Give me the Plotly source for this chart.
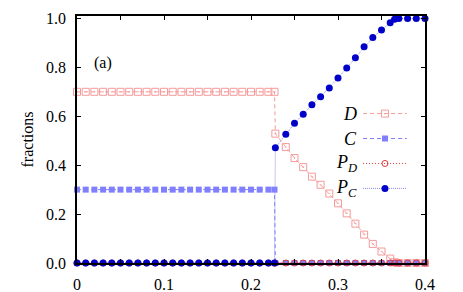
import plotly.graph_objects as go

# ---- data ----
x = [0.00, 0.01, 0.02, 0.03, 0.04, 0.05, 0.06, 0.07, 0.08, 0.09, 0.10,
     0.11, 0.12, 0.13, 0.14, 0.15, 0.16, 0.17, 0.18, 0.19, 0.20, 0.21, 0.22,
     0.227, 0.228,
     0.24, 0.25, 0.26, 0.27, 0.28, 0.29, 0.30, 0.31, 0.32, 0.33, 0.34, 0.35, 0.36,
     0.365, 0.37, 0.38, 0.39, 0.40]

D = [0.70, 0.70, 0.70, 0.70, 0.70, 0.70, 0.70, 0.70, 0.70, 0.70, 0.70,
     0.70, 0.70, 0.70, 0.70, 0.70, 0.70, 0.70, 0.70, 0.70, 0.70, 0.70, 0.70,
     0.70, 0.529,
     0.474, 0.429, 0.392, 0.353, 0.320, 0.284, 0.244, 0.203, 0.161, 0.116, 0.078, 0.047, 0.018,
     0.003, 0.0, 0.0, 0.0, 0.0]

C = [0.30, 0.30, 0.30, 0.30, 0.30, 0.30, 0.30, 0.30, 0.30, 0.30, 0.30,
     0.30, 0.30, 0.30, 0.30, 0.30, 0.30, 0.30, 0.30, 0.30, 0.30, 0.30, 0.30,
     0.30, 0.0,
     0.0, 0.0, 0.0, 0.0, 0.0, 0.0, 0.0, 0.0, 0.0, 0.0, 0.0, 0.0, 0.0,
     0.0, 0.0, 0.0, 0.0, 0.0]

PD = [0.0, 0.0, 0.0, 0.0, 0.0, 0.0, 0.0, 0.0, 0.0, 0.0, 0.0,
      0.0, 0.0, 0.0, 0.0, 0.0, 0.0, 0.0, 0.0, 0.0, 0.0, 0.0, 0.0,
      0.0, 0.0,
      0.0, 0.0, 0.0, 0.0, 0.0, 0.0, 0.0, 0.0, 0.0, 0.0, 0.0, 0.0, 0.0,
      0.0, 0.0, 0.0, 0.0, 0.0]

PC = [0.0, 0.0, 0.0, 0.0, 0.0, 0.0, 0.0, 0.0, 0.0, 0.0, 0.0,
      0.0, 0.0, 0.0, 0.0, 0.0, 0.0, 0.0, 0.0, 0.0, 0.0, 0.0, 0.0,
      0.0, 0.471,
      0.526, 0.571, 0.608, 0.647, 0.680, 0.716, 0.756, 0.797, 0.839, 0.884, 0.922, 0.953, 0.982,
      0.997, 1.0, 1.0, 1.0, 1.0]

x_tickvals = [0.0, 0.1, 0.2, 0.3, 0.4]
x_ticktext = ["0", "0.1", "0.2", "0.3", "0.4"]
y_tickvals = [0.0, 0.2, 0.4, 0.6, 0.8, 1.0]
y_ticktext = ["0.0", "0.2", "0.4", "0.6", "0.8", "1.0"]

series_names = ["<i>D</i>", "<i>C</i>", "<i>P</i><sub><i>D</i></sub>", "<i>P</i><sub><i>C</i></sub>"]

# ---- styles ----
D_COL = "#f59a9a"
C_COL = "#8080ff"
PD_COL = "#e03838"
PC_LINE = "#8a8af0"
PC_MARK = "#0000c8"
FONT = "Liberation Serif, Times New Roman, serif"

styles = [
    dict(line=dict(color=D_COL, width=1, dash="4px,3px"),
         marker=dict(symbol="square-open-dot", size=7, color=D_COL, line=dict(width=1, color=D_COL))),
    dict(line=dict(color=C_COL, width=1, dash="4px,3px"),
         marker=dict(symbol="square", size=6, color=C_COL, line=dict(width=0))),
    dict(line=dict(color=PD_COL, width=1, dash="1px,2px"),
         marker=dict(symbol="circle-open", size=6, color=PD_COL, line=dict(width=1, color=PD_COL))),
    dict(line=dict(color=PC_LINE, width=1, dash="1px,1px"),
         marker=dict(symbol="circle", size=7, color=PC_MARK, line=dict(width=0))),
]

fig = go.Figure()
for ys, st in zip([D, C, PD, PC], styles):
    fig.add_trace(go.Scatter(x=x, y=ys, mode="lines+markers", line=st["line"],
                             marker=st["marker"], showlegend=False, cliponaxis=False))

# ---- custom key (sample on hidden overlay axes, labels as annotations) ----
key_rows = [0.605, 0.504, 0.403, 0.302]
for row, st, name in zip(key_rows, styles, series_names):
    fig.add_trace(go.Scatter(x=[0.822, 0.885, 0.948], y=[row, row, row], mode="lines",
                             line=st["line"], xaxis="x2", yaxis="y2", showlegend=False))
    fig.add_trace(go.Scatter(x=[0.885], y=[row], mode="markers", marker=st["marker"],
                             xaxis="x2", yaxis="y2", showlegend=False))
    fig.add_annotation(x=0.81, y=row, xref="x2", yref="y2", text=name, showarrow=False,
                       xanchor="right", yanchor="middle",
                       font=dict(family=FONT, size=18, color="black"))

fig.add_annotation(x=0.075, y=0.81, xref="paper", yref="paper", text="(a)", showarrow=False,
                   xanchor="center", yanchor="middle",
                   font=dict(family=FONT, size=16, color="black"))

axis_common = dict(showline=True, linecolor="black", linewidth=1.5, mirror="allticks",
                   ticks="inside", ticklen=4, tickwidth=1, tickcolor="black",
                   showgrid=False, zeroline=False, automargin=False,
                   tickfont=dict(family=FONT, size=16, color="black"))

# the page body adds an 8px offset, so the figure is 8px smaller and margins compensate
fig.update_layout(
    width=455, height=284,
    margin=dict(l=69, r=38, t=8, b=29, autoexpand=False),
    paper_bgcolor="white", plot_bgcolor="white",
    xaxis=dict(range=[0, 0.4], tickmode="array", tickvals=x_tickvals, ticktext=x_ticktext,
               ticklabelstandoff=6,
               minor=dict(dtick=0.05, ticks="inside", ticklen=4, tickwidth=1, tickcolor="black", showgrid=False),
               **axis_common),
    yaxis=dict(range=[0, 1.01], tickmode="array", tickvals=y_tickvals, ticktext=y_ticktext,
               ticklabelstandoff=6,
               title=dict(text="fractions", font=dict(family=FONT, size=16, color="black"), standoff=8),
               **axis_common),
    xaxis2=dict(overlaying="x", range=[0, 1], visible=False),
    yaxis2=dict(overlaying="y", range=[0, 1], visible=False),
    font=dict(family=FONT),
)

fig.write_html("out.html")
